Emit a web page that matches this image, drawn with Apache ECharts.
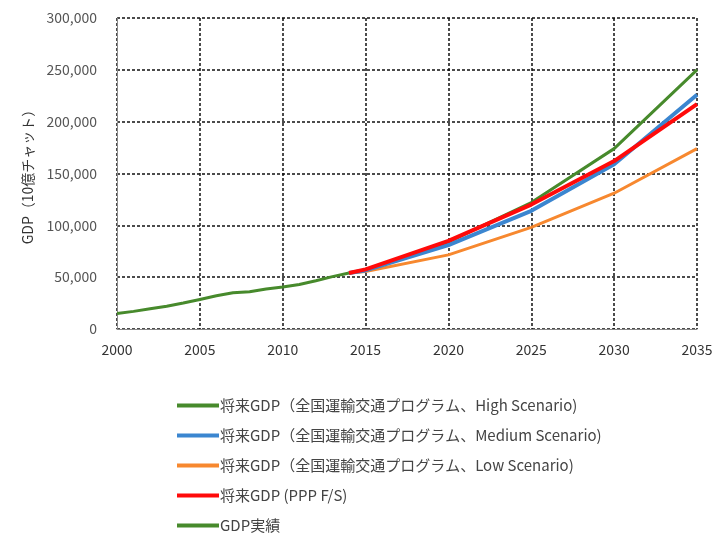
<!DOCTYPE html>
<html>
<head>
<meta charset="utf-8">
<script src="https://cdn.jsdelivr.net/npm/echarts@6/dist/echarts.min.js"></script>
<style>
  html, body { margin: 0; padding: 0; background: #fff; }
  #chart { width: 716px; height: 534px; }
</style>
</head>
<body>
<div id="chart"></div>
<script>
// Historical GDP (billion kyat)
var actualYears = [2000, 2001, 2002, 2003, 2004, 2005, 2006, 2007, 2008, 2009, 2010, 2011, 2012, 2013, 2014];
var actualGdp = [15000, 17000, 19500, 22000, 25000, 28500, 32000, 35000, 36000, 38500, 40500, 43000, 46500, 50500, 54000];

// Projection years and scenarios
var futureYears = [2014, 2015, 2020, 2025, 2030, 2035];
var highScenario = [54000, 57000, 84000, 122000, 174000, 250000];
var mediumScenario = [54000, 56500, 81000, 114000, 159000, 226000];
var lowScenario = [54000, 55500, 71500, 98000, 131000, 174000];
var pppScenario = [54000, 57500, 85000, 120000, 162000, 217000];

var seriesNames = [
  '将来GDP（全国運輸交通プログラム、High Scenario)',
  '将来GDP（全国運輸交通プログラム、Medium Scenario)',
  '将来GDP（全国運輸交通プログラム、Low Scenario)',
  '将来GDP (PPP F/S)',
  'GDP実績'
];

function pairs(xs, ys) {
  return xs.map(function (x, i) { return [x, ys[i]]; });
}

var FONT = '"Noto Sans CJK JP", "Noto Sans", sans-serif';

var chart = echarts.init(document.getElementById('chart'), null, { renderer: 'canvas' });

function lineSeries(name, data, color, width, z) {
  return {
    name: name,
    type: 'line',
    data: data,
    showSymbol: false,
    symbol: 'none',
    z: z,
    lineStyle: { color: color, width: width },
    itemStyle: { color: color }
  };
}

chart.setOption({
  backgroundColor: '#ffffff',
  animation: false,
  textStyle: { fontFamily: FONT },
  grid: { left: 117, top: 18, right: 19, bottom: 205, containLabel: false },
  xAxis: {
    type: 'value',
    min: 2000,
    max: 2035,
    interval: 5,
    axisLine: { show: true, lineStyle: { color: '#888', width: 1 } },
    axisTick: { show: false },
    axisLabel: {
      color: '#333', fontSize: 14, margin: 14, fontFamily: FONT,
      formatter: function (v) { return String(v); }
    },
    splitLine: { show: true, lineStyle: { color: '#111', type: [3, 2], width: 1.5 } }
  },
  yAxis: {
    type: 'value',
    min: 0,
    max: 300000,
    interval: 50000,
    name: 'GDP（10億チャット）',
    nameLocation: 'middle',
    nameGap: 82,
    nameRotate: 90,
    nameTextStyle: { color: '#333', fontSize: 14, fontFamily: FONT },
    axisLine: { show: true, lineStyle: { color: '#888', width: 1 } },
    axisTick: { show: false },
    axisLabel: {
      color: '#555', fontSize: 14, margin: 20, fontFamily: FONT,
      formatter: function (v) { return v.toLocaleString('en-US'); }
    },
    splitLine: { show: true, lineStyle: { color: '#111', type: [3, 2], width: 1.5 } }
  },
  legend: {
    orient: 'vertical',
    left: 177,
    top: 398,
    padding: 0,
    itemWidth: 42,
    itemHeight: 4,
    itemGap: 15,
    icon: 'rect',
    data: seriesNames,
    textStyle: { color: '#444', fontSize: 15, lineHeight: 15, fontFamily: FONT, padding: [0, 0, 0, -4] }
  },
  series: [
    lineSeries(seriesNames[4], pairs(actualYears, actualGdp), '#478a2c', 3, 2),
    lineSeries(seriesNames[2], pairs(futureYears, lowScenario), '#f7882f', 3, 3),
    lineSeries(seriesNames[0], pairs(futureYears, highScenario), '#478a2c', 3, 4),
    lineSeries(seriesNames[1], pairs(futureYears, mediumScenario), '#3b86d0', 4, 5),
    lineSeries(seriesNames[3], pairs(futureYears, pppScenario), '#ff0a0a', 4, 6)
  ]
});
</script>
</body>
</html>
